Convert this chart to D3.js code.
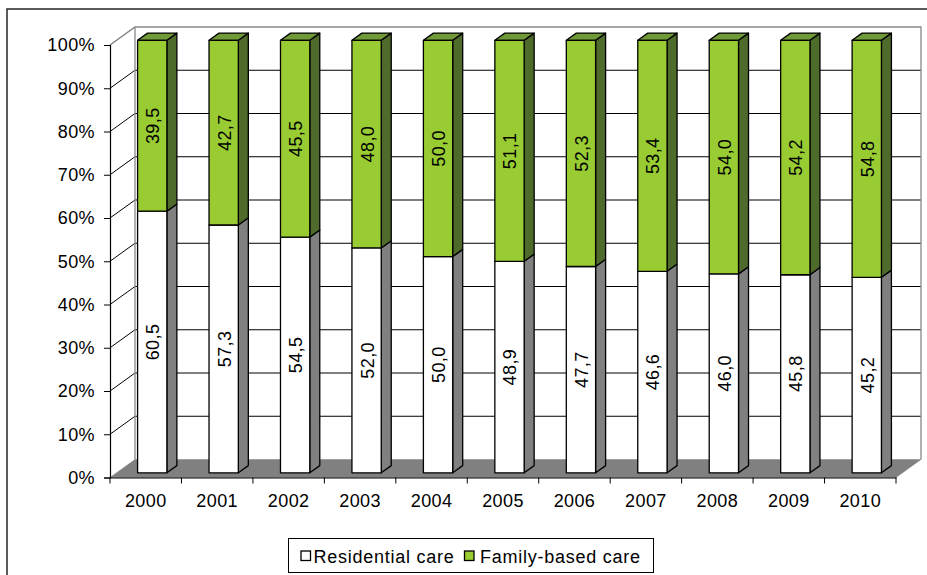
<!DOCTYPE html>
<html><head><meta charset="utf-8">
<script src="https://cdn.jsdelivr.net/npm/d3@7"></script>
<style>
html,body{margin:0;padding:0;background:#fff;}
svg{display:block;}
text{font-family:"Liberation Sans",Arial,sans-serif;fill:#000;}
</style></head>
<body>
<svg id="chart" width="927" height="575"></svg>
<script>
const years = ["2000","2001","2002","2003","2004","2005","2006","2007","2008","2009","2010"];
const residential = [60.5,57.3,54.5,52.0,50.0,48.9,47.7,46.6,46.0,45.8,45.2];
const familyBased = [39.5,42.7,45.5,48.0,50.0,51.1,52.3,53.4,54.0,54.2,54.8];
const yTicks = [0,10,20,30,40,50,60,70,80,90,100];
const seriesNames = ["Residential care","Family-based care"];

const svg = d3.select("#chart");
const W = 927, H = 575;

// outer frame
svg.append("rect").attr("x",7).attr("y",9).attr("width",960).attr("height",620)
  .attr("fill","#fff").attr("stroke","#333").attr("stroke-width",1.6);

const x = d3.scaleBand().domain(years).range([110, 896]).padding(0);
const y = d3.scaleLinear().domain([0,100]).range([477.5, 45]);
const D = {dx:25, dy:-18};          // wall depth
const f0 = 0.26, f1 = 0.66;          // bar front/back depth fractions
const bw = x.bandwidth()*0.41;

const locale = d3.formatLocale({decimal:",", thousands:".", grouping:[3], currency:["",""]});
const fmt = locale.format(".1f");

const x0 = x.range()[0], x1 = x.range()[1];
const yTop = y(100), yBot = y(0);

// back wall
svg.append("rect").attr("x",x0+D.dx).attr("y",yTop+D.dy).attr("width",x1-x0).attr("height",yBot-yTop)
  .attr("fill","#fff").attr("stroke","none");
// left wall
svg.append("path").attr("d",`M${x0},${yBot}L${x0+D.dx},${yBot+D.dy}L${x0+D.dx},${yTop+D.dy}L${x0},${yTop}Z`)
  .attr("fill","#fff");

// grid lines
const g = svg.append("g");
yTicks.forEach(v=>{
  const yy = y(v);
  if (v>0 && v<100) {
    g.append("line").attr("x1",x0+D.dx).attr("x2",x1+D.dx).attr("y1",yy+D.dy).attr("y2",yy+D.dy)
      .attr("stroke","#000").attr("stroke-width",1);
  }
  if (v>0) {
    g.append("line").attr("x1",x0).attr("x2",x0+D.dx).attr("y1",yy).attr("y2",yy+D.dy)
      .attr("stroke", v===100?"#888":"#000").attr("stroke-width",1);
  }
});
// wall outlines
svg.append("path")
  .attr("d",`M${x0},${yTop}L${x0+D.dx},${yTop+D.dy}L${x1+D.dx},${yTop+D.dy}L${x1+D.dx},${yBot+D.dy}`)
  .attr("fill","none").attr("stroke","#888").attr("stroke-width",1.3);
svg.append("line").attr("x1",x0+D.dx).attr("x2",x0+D.dx).attr("y1",yTop+D.dy).attr("y2",yBot+D.dy)
  .attr("stroke","#888").attr("stroke-width",1.3);

// floor
svg.append("path")
  .attr("d",`M${x0},${yBot}L${x1},${yBot}L${x1+D.dx},${yBot+D.dy}L${x0+D.dx},${yBot+D.dy}Z`)
  .attr("fill","#808080").attr("stroke","#808080").attr("stroke-width",0.5);

// y axis
const yAxis = d3.axisLeft(y).tickValues(yTicks).tickSize(6).tickPadding(9).tickFormat(d=>d+"%");
const ya = svg.append("g").attr("transform",`translate(${x0},0)`).call(yAxis);
ya.select(".domain").attr("stroke","#000").attr("stroke-width",1.2);
ya.selectAll(".tick line").attr("stroke","#000");
ya.selectAll("text").attr("font-size",18).style("letter-spacing","0.4px")
  .attr("font-family","Liberation Sans, Arial, sans-serif").attr("fill","#000");

// x axis
const xa = svg.append("g").attr("transform",`translate(0,${yBot})`)
  .call(d3.axisBottom(x).tickSize(0).tickPadding(17));
xa.select(".domain").attr("stroke","#000").attr("stroke-width",1.2);
xa.selectAll("text").attr("font-size",18).style("letter-spacing","0.4px")
  .attr("font-family","Liberation Sans, Arial, sans-serif").attr("fill","#000");
// category boundary ticks
const bounds = d3.range(years.length+1).map(i=> x0 + i*x.step());
svg.append("g").selectAll("line").data(bounds).join("line")
  .attr("x1",d=>d).attr("x2",d=>d).attr("y1",yBot).attr("y2",yBot+6)
  .attr("stroke","#000").attr("stroke-width",1);

// bars
const colors = {
  res:{front:"#ffffff", side:"#808080", top:"#c0c0c0"},
  fam:{front:"#99cc33", side:"#4e6b2b", top:"#6f9a37"}
};
const sx0 = f0*D.dx, sy0 = f0*D.dy, ddx=(f1-f0)*D.dx, ddy=(f1-f0)*D.dy;
const bars = svg.append("g");
function box(cx, v0, v1, c, drawTop){
  const xl = cx - bw/2 + sx0, xr = cx + bw/2 + sx0;
  const yt = y(v1) + sy0, yb = y(v0) + sy0;
  const gg = bars.append("g").attr("stroke","#000").attr("stroke-width",1.3).attr("stroke-linejoin","round");
  gg.append("path").attr("d",`M${xr},${yb}L${xr+ddx},${yb+ddy}L${xr+ddx},${yt+ddy}L${xr},${yt}Z`).attr("fill",c.side);
  if (drawTop) gg.append("path").attr("d",`M${xl},${yt}L${xl+ddx},${yt+ddy}L${xr+ddx},${yt+ddy}L${xr},${yt}Z`).attr("fill",c.top);
  gg.append("rect").attr("x",xl).attr("y",yt).attr("width",xr-xl).attr("height",yb-yt).attr("fill",c.front);
}
years.forEach((yr,i)=>{
  const cx = x(yr) + x.bandwidth()/2;
  box(cx, 0, residential[i], colors.res, false);
  box(cx, residential[i], residential[i]+familyBased[i], colors.fam, true);
});

// value labels
const labels = svg.append("g");
years.forEach((yr,i)=>{
  const cx = x(yr) + x.bandwidth()/2 + sx0;
  [[0,residential[i]],[residential[i],residential[i]+familyBased[i]]].forEach(([a,b])=>{
    const cy = y((a+b)/2) + sy0;
    labels.append("text").attr("transform",`translate(${cx+0.5},${cy}) rotate(-90)`)
      .attr("text-anchor","middle").attr("dy","0.36em")
      .attr("font-size",18).style("letter-spacing","0.4px")
      .text(fmt(b-a));
  });
});

// legend
const lg = svg.append("g");
lg.append("rect").attr("x",288.5).attr("y",538.5).attr("width",365).attr("height",34)
  .attr("fill","#fff").attr("stroke","#000").attr("stroke-width",1);
const legendItems = [
  {name:seriesNames[0], fill:"#ffffff", sx:301, tx:313.5},
  {name:seriesNames[1], fill:"#99cc33", sx:464.5, tx:480}
];
legendItems.forEach(it=>{
  lg.append("rect").attr("x",it.sx).attr("y",551).attr("width",9.5).attr("height",9.5)
    .attr("fill",it.fill).attr("stroke","#000").attr("stroke-width",1.3);
  lg.append("text").attr("x",it.tx).attr("y",562.5).attr("font-size",18)
    .style("letter-spacing","0.75px").text(it.name);
});
</script>
</body></html>
